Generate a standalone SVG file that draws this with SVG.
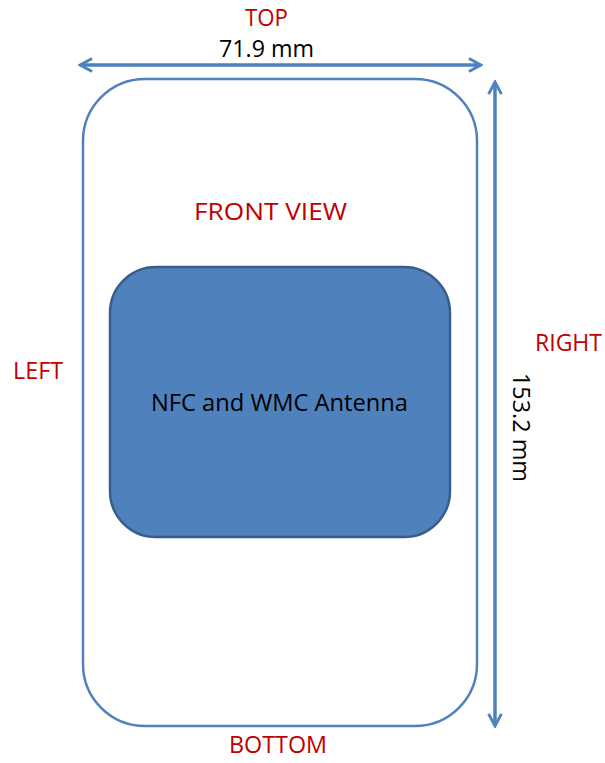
<svg xmlns="http://www.w3.org/2000/svg" width="605" height="763" viewBox="0 0 605 763">
<defs>
<style>
.lbl{font-family:"Open Sans","Liberation Sans",sans-serif;font-size:24px;text-anchor:middle}
.red{fill:#C00000}
.blk{fill:#000}
.dim{stroke:#4F81BD;stroke-width:3.5;fill:none}
</style>
<marker id="ah" viewBox="0 0 10 10" refX="9" refY="5" markerWidth="4.6" markerHeight="4.6" orient="auto-start-reverse" markerUnits="strokeWidth">
<path d="M1.5,1 L9,5 L1.5,9" fill="none" stroke="#4F81BD" stroke-width="1.8"/>
</marker>
</defs>
<rect width="605" height="763" fill="#fff"/>
<g id="phone">
<rect x="83" y="79" width="394" height="647" rx="62" ry="62" fill="#fff" stroke="#4F81BD" stroke-width="2.5"/>
</g>
<g id="antenna">
<rect x="110" y="267" width="340" height="270" rx="46" ry="46" fill="#4F81BD" stroke="#385D8A" stroke-width="2.5"/>
<text class="lbl blk" x="279.5" y="411" textLength="257" lengthAdjust="spacingAndGlyphs">NFC and WMC Antenna</text>
</g>
<g id="connectors">
<line class="dim" x1="80" y1="65" x2="481" y2="65" marker-start="url(#ah)" marker-end="url(#ah)"/>
<line class="dim" x1="495" y1="82" x2="495" y2="726" marker-start="url(#ah)" marker-end="url(#ah)"/>
</g>
<g id="labels">
<text class="lbl red" x="266.5" y="26" textLength="43" lengthAdjust="spacingAndGlyphs">TOP</text>
<text class="lbl blk" x="266.5" y="57" textLength="95" lengthAdjust="spacingAndGlyphs">71.9 mm</text>
<text class="lbl red" x="270.5" y="220" textLength="153" lengthAdjust="spacingAndGlyphs">FRONT VIEW</text>
<text class="lbl red" x="38" y="379" textLength="50" lengthAdjust="spacingAndGlyphs">LEFT</text>
<text class="lbl red" x="568.5" y="351" textLength="67" lengthAdjust="spacingAndGlyphs">RIGHT</text>
<text class="lbl red" x="278" y="753" textLength="98" lengthAdjust="spacingAndGlyphs">BOTTOM</text>
<text class="lbl blk" transform="translate(513,427.5) rotate(90)" x="0" y="0" textLength="109" lengthAdjust="spacingAndGlyphs">153.2 mm</text>
</g>
</svg>
